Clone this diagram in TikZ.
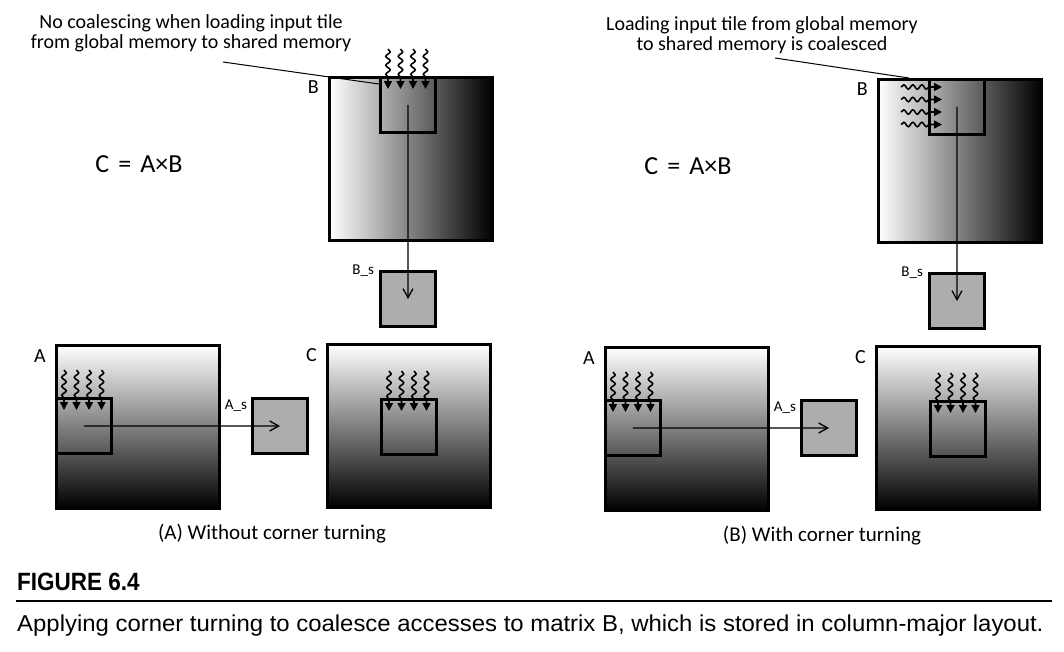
\documentclass[tikz,border=0pt]{standalone}
\usepackage{fontspec}
\setmainfont{Carlito}
\newfontfamily\figfont[FakeStretch=0.9]{Liberation Sans}
\newfontfamily\capfont[FakeStretch=1.04]{Liberation Sans}
\usetikzlibrary{arrows.meta,decorations.pathmorphing}

\tikzset{
  matbox/.style={draw, line width=3pt, minimum size=163pt, inner sep=0pt},
  colgrad/.style={matbox, left color=white, right color=black},
  rowgrad/.style={matbox, top color=white, bottom color=black},
  tile/.style={draw, line width=2.8pt, minimum size=55pt, inner sep=0pt},
  smbox/.style={tile, fill=black!32},
  conn/.style={line width=1.3pt, -{Straight Barb[length=9pt,width=10pt]}},
  wavy/.style={line width=1.6pt, -{Triangle[length=8pt,width=8pt]}, decorate,
    decoration={snake, amplitude=2.2pt, segment length=9pt, post length=9pt}},
  mlabel/.style={font=\fontsize{20}{22}\selectfont, inner sep=0pt},
  slabel/.style={font=\fontsize{15}{17}\selectfont, inner sep=0pt},
  note/.style={font=\fontsize{20}{20}\selectfont, align=center},
  eqn/.style={font=\fontsize{26}{28}\selectfont},
  panelcap/.style={font=\fontsize{21}{24}\selectfont},
}

\newcommand{\wigdown}[1]{% tile node, threads load downwards
  \foreach \dx in {9,21.5,34,46.5}
    \draw[wavy] ([shift={(\dx,-27)}]#1.north west) -- ([shift={(\dx,13)}]#1.north west);
}
\newcommand{\wigright}[1]{% tile node, threads load to the right
  \foreach \dy in {9,21.5,34,46.5}
    \draw[wavy] ([shift={(-27,\dy)}]#1.north west) -- ([shift={(14,\dy)}]#1.north west);
}

\begin{document}
\begin{tikzpicture}[x=1pt, y=-1pt]
\useasboundingbox (0,0) rectangle (1064,651);
\fill[white] (0,0) rectangle (1064,651);

% (A) without corner turning
\node[colgrad] (BmL) at (411,159) {};
\node[tile, anchor=north west] (BtL) at ([shift={(51,0)}]BmL.north west) {};
\node[smbox] (BsL) at (408,299) {};
\node[rowgrad] (AmL) at (138,427) {};
\node[tile, anchor=north west] (AtL) at ([shift={(0,53)}]AmL.north west) {};
\node[smbox] (AsL) at (280,426) {};
\node[rowgrad] (CmL) at (409,426) {};
\node[tile, anchor=north west] (CtL) at ([shift={(54,55)}]CmL.north west) {};

\node[mlabel, anchor=north east] (labBL) at ([shift={(-9,4)}]BmL.north west) {B};
\node[mlabel, anchor=north east] (labAL) at ([shift={(-9,5)}]AmL.north west) {A};
\node[mlabel, anchor=north east] (labCL) at ([shift={(-9,5)}]CmL.north west) {C};
\node[slabel, anchor=east] (labBsL) at ([shift={(-5,1)}]BsL.north west) {B\_s};
\node[slabel, anchor=east] (labAsL) at ([shift={(-4,9)}]AsL.north west) {A\_s};

\node[eqn] (eqL) at (139,164) {C\hspace{0.35em}=\hspace{0.35em}A×B};
\node[note] (noteL) at (191,33) {No coalescing when loading input tile\\from global memory to shared memory};
\coordinate (leadL) at (223,62);
\draw[line width=1pt] (leadL) -- ([shift={(0,8)}]BtL.north west);

\wigdown{BtL}
\wigdown{AtL}
\wigdown{CtL}
\draw[conn] (BtL.center) -- (BsL.center);
\draw[conn] (AtL.center) -- (AsL.center);
\node[panelcap] (capL) at (272,534) {(A) Without corner turning};

% (B) with corner turning
\begin{scope}[shift={(549,2)}]
\node[colgrad] (BmR) at (411,159) {};
\node[tile, anchor=north west] (BtR) at ([shift={(51,0)}]BmR.north west) {};
\node[smbox] (BsR) at (408,299) {};
\node[rowgrad] (AmR) at (138,427) {};
\node[tile, anchor=north west] (AtR) at ([shift={(0,53)}]AmR.north west) {};
\node[smbox] (AsR) at (280,426) {};
\node[rowgrad] (CmR) at (409,426) {};
\node[tile, anchor=north west] (CtR) at ([shift={(54,55)}]CmR.north west) {};

\node[mlabel, anchor=north east] (labBR) at ([shift={(-9,4)}]BmR.north west) {B};
\node[mlabel, anchor=north east] (labAR) at ([shift={(-9,5)}]AmR.north west) {A};
\node[mlabel, anchor=north east] (labCR) at ([shift={(-9,5)}]CmR.north west) {C};
\node[slabel, anchor=east] (labBsR) at ([shift={(-5,1)}]BsR.north west) {B\_s};
\node[slabel, anchor=east] (labAsR) at ([shift={(-4,9)}]AsR.north west) {A\_s};

\node[eqn] (eqR) at (139,164) {C\hspace{0.35em}=\hspace{0.35em}A×B};
\node[note] (noteR) at (213,33) {Loading input tile from global memory\\to shared memory is coalesced};
\coordinate (leadR) at (226,56);
\draw[line width=1pt] (leadR) -- ([shift={(32,0)}]BmR.north west);

\wigright{BtR}
\wigdown{AtR}
\wigdown{CtR}
\draw[conn] (BtR.center) -- (BsR.center);
\draw[conn] (AtR.center) -- (AsR.center);
\node[panelcap] (capR) at (273,534) {(B) With corner turning};
\end{scope}

% figure caption
\node[anchor=base west, inner sep=0pt, font=\figfont\bfseries\fontsize{25}{28}\selectfont] (fig) at (17,590) {FIGURE 6.4};
\draw[line width=2.5pt] (16,601) -- (1052,601);
\node[anchor=base west, inner sep=0pt, font=\capfont\fontsize{23}{26}\selectfont] (capt) at (17,631) {Applying corner turning to coalesce accesses to matrix B, which is stored in column-major layout.};

\end{tikzpicture}
\end{document}
